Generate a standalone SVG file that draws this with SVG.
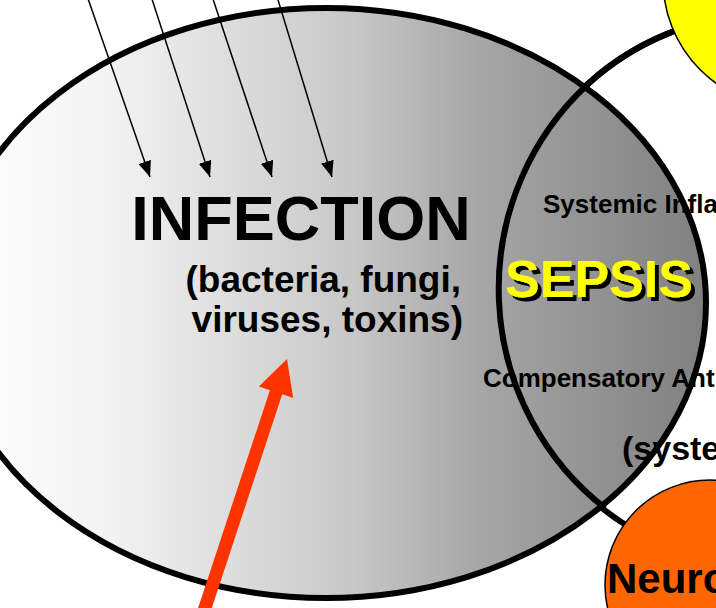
<svg xmlns="http://www.w3.org/2000/svg" width="716" height="608" viewBox="0 0 716 608">
<defs>
<linearGradient id="gInf" gradientUnits="userSpaceOnUse" x1="-54" y1="0" x2="706" y2="0">
<stop offset="0" stop-color="#ffffff"/>
<stop offset="0.203" stop-color="#f4f4f4"/>
<stop offset="0.532" stop-color="#c8c8c8"/>
<stop offset="0.703" stop-color="#a6a6a6"/>
<stop offset="1" stop-color="#808080"/>
</linearGradient>
<filter id="shadow" x="-10%" y="-10%" width="130%" height="140%">
<feDropShadow dx="4" dy="4" stdDeviation="0" flood-color="#000" flood-opacity="1"/>
</filter>
<marker id="ah" markerUnits="userSpaceOnUse" markerWidth="17" markerHeight="13" refX="16" refY="6.5" orient="auto">
<path d="M0,0 L16,6.5 L0,13 z" fill="#000"/>
</marker>
<style>
text{font-family:"Liberation Sans",Arial,Helvetica,sans-serif;font-weight:bold;fill:#000}
.thick{stroke:#000;stroke-width:6}
.thin{stroke:#000;stroke-width:1.5}
.feed{stroke:#000;stroke-width:1.5;fill:none;marker-end:url(#ah)}
</style>
</defs>
<g id="sirs">
<ellipse cx="768" cy="290" rx="271" ry="276" fill="#ffffff" class="thick"/>
</g>
<g id="yellow-node">
<circle cx="790" cy="-20" r="127" fill="#ffff00" class="thin"/>
</g>
<g id="neuro-node">
<circle cx="710" cy="585" r="105" fill="#ff6600" class="thin"/>
<text x="607" y="593" font-size="42">Neuro</text>
</g>
<g id="infection">
<ellipse cx="326" cy="303" rx="380" ry="295" fill="url(#gInf)" class="thick"/>
<text x="301" y="240" font-size="63" text-anchor="middle">INFECTION</text>
<text x="461" y="292" font-size="37" text-anchor="end">(bacteria, fungi,</text>
<text x="463" y="332" font-size="37" text-anchor="end">viruses, toxins)</text>
</g>
<g id="sirs-outline">
<path d="M 587 85 A 271 276 0 0 0 605 508" fill="none" class="thick"/>
<path d="M 672 32 A 271 276 0 0 0 587 85" fill="none" class="thick"/>
</g>
<g id="sepsis">
<text x="599" y="297" font-size="52" text-anchor="middle" style="fill:#ffff00" filter="url(#shadow)">SEPSIS</text>
<text x="543" y="213" font-size="26">Systemic Infla</text>
<text x="483" y="387" font-size="26">Compensatory Ant</text>
<text x="622" y="460" font-size="34">(syste</text>
</g>
<g id="connectors">
<line x1="85" y1="-10" x2="150" y2="177" class="feed"/>
<line x1="149" y1="-10" x2="210" y2="177" class="feed"/>
<line x1="210" y1="-10" x2="272" y2="177" class="feed"/>
<line x1="275" y1="-10" x2="332" y2="177" class="feed"/>
<polygon points="194.8,618 269.9,390.2 258.9,386.6 287,359 293.2,397.9 282.2,394.3 207.2,622" fill="#ff3300"/>
</g>
</svg>
